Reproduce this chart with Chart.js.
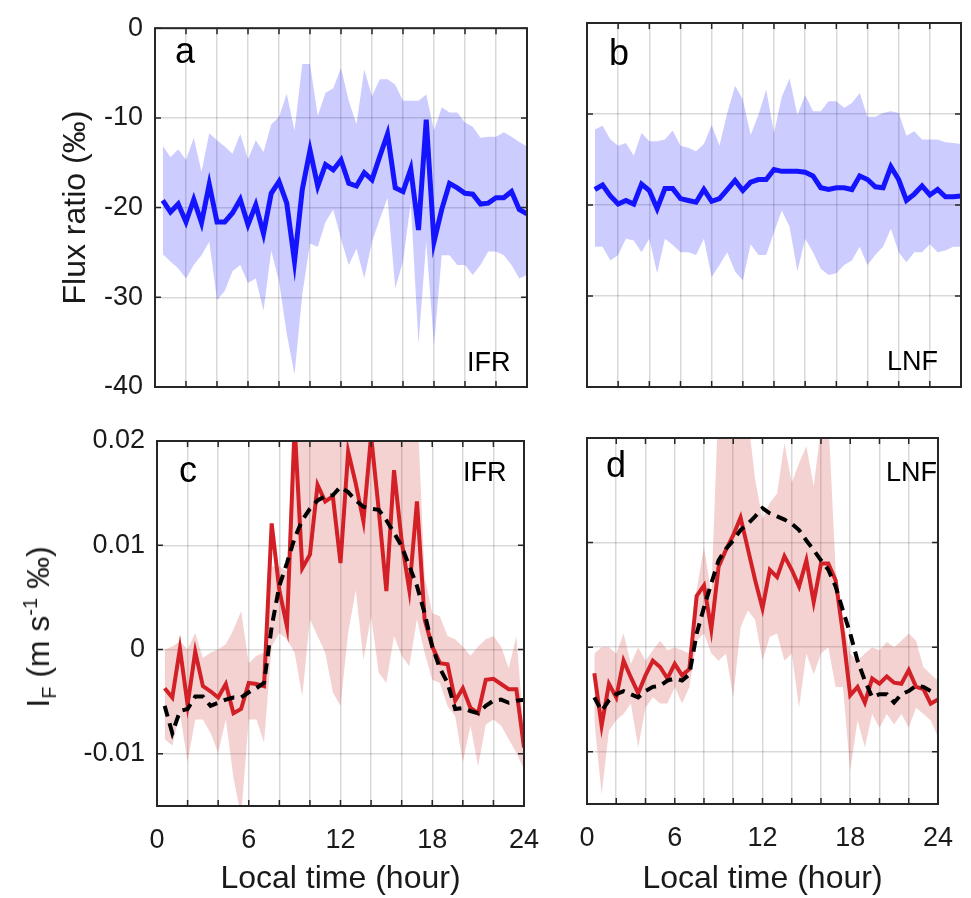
<!DOCTYPE html>
<html>
<head>
<meta charset="utf-8">
<script src="https://cdn.jsdelivr.net/npm/chart.js@4.4.0/dist/chart.umd.min.js"></script>
<style>
    body { margin: 0; background: #fff; width: 971px; height: 898px; position: relative; overflow: hidden;
           font-family: 'Liberation Sans', Arial, sans-serif; }
    canvas { position: absolute; left: 0; top: 0; }
    #ifLabel { position: absolute; left: 38px; top: 627px; transform: translate(-50%, -50%) rotate(-90deg);
               white-space: nowrap; font-size: 32px; line-height: 1; color: #1a1a1a; }
    #ifLabel sub, #ifLabel sup { font-size: 0.62em; line-height: 0; }
</style>
</head>
<body>
<canvas id="panel-a" width="971" height="898"></canvas>
<canvas id="panel-b" width="971" height="898"></canvas>
<canvas id="panel-c" width="971" height="898"></canvas>
<canvas id="panel-d" width="971" height="898"></canvas>
<div id="ifLabel">I<sub>F</sub> (m s<sup>-1</sup> ‰)</div>
<script>
// local time of each sample (hour)
const hours = [0.5, 1, 1.5, 2, 2.5, 3, 3.5, 4, 4.5, 5, 5.5, 6, 6.5, 7, 7.5, 8, 8.5, 9, 9.5, 10, 10.5, 11, 11.5, 12,
    12.5, 13, 13.5, 14, 14.5, 15, 15.5, 16, 16.5, 17, 17.5, 18, 18.5, 19, 19.5, 20, 20.5, 21, 21.5, 22, 22.5, 23, 23.5, 24];

const xGrid = [0, 2, 4, 6, 8, 10, 12, 14, 16, 18, 20, 22, 24];
const xLabels = [0, 6, 12, 18, 24];
const yTicksFlux = [-40, -30, -20, -10, 0];
const yTicksIF = [-0.01, 0, 0.01, 0.02];

// panel a - IFR flux ratio (‰)
const ifrRatio = [-19.2, -20.5, -19.6, -21.6, -19.1, -21.7, -17.4, -21.6, -21.6, -20.6, -19.1, -21.9, -19.7, -22.9, -18.4, -17.1,
    -19.5, -26.0, -18.0, -13.6, -17.6, -15.2, -15.8, -14.7, -17.3, -17.6, -16.1, -16.9, -14.3, -11.8, -17.8, -18.2,
    -15.7, -22.5, -10.2, -23.8, -20.2, -17.3, -17.8, -18.4, -18.5, -19.6, -19.5, -18.9, -18.9, -18.2, -20.2, -20.7];
const ifrRatioHigh = [-13.1, -14.4, -13.5, -14.7, -12.2, -16.0, -11.7, -12.5, -13.2, -14.0, -11.8, -14.6, -12.5, -13.8, -10.7, -9.9,
    -7.3, -11.4, -4.0, -4.0, -9.8, -7.2, -6.7, -4.4, -8.1, -10.7, -4.6, -7.6, -5.7, -5.7, -6.3, -8.1,
    -8.1, -8.1, -7.4, -11.4, -8.8, -9.4, -9.4, -10.5, -11.0, -12.2, -12.1, -12.1, -11.6, -12.1, -12.7, -13.2];
const ifrRatioLow = [-25.2, -26.0, -26.8, -27.9, -26.4, -25.3, -23.8, -30.3, -29.3, -27.1, -26.4, -28.4, -27.9, -31.5, -24.8, -28.2,
    -34.1, -38.6, -29.7, -24.0, -24.4, -21.6, -20.2, -23.5, -26.4, -24.6, -27.9, -23.8, -21.3, -18.9, -29.0, -26.0,
    -19.5, -35.2, -23.8, -35.4, -25.3, -25.3, -26.4, -26.4, -27.5, -26.4, -24.9, -24.9, -25.3, -26.4, -27.9, -27.5];

// panel b - LNF flux ratio (‰)
const lnfRatio = [-18.3, -17.8, -19.0, -19.9, -19.5, -19.9, -17.7, -18.4, -20.4, -18.2, -18.2, -19.3, -19.5, -19.7, -18.3, -19.6,
    -19.3, -18.3, -17.3, -18.4, -17.5, -17.2, -17.2, -16.1, -16.3, -16.3, -16.3, -16.4, -16.8, -18.1, -18.3, -18.1,
    -18.1, -18.3, -16.8, -17.2, -18.0, -18.1, -15.8, -17.2, -19.5, -18.8, -17.9, -18.9, -18.3, -19.1, -19.1, -19.0];
const lnfRatioHigh = [-11.7, -11.3, -12.8, -13.5, -13.2, -14.6, -12.1, -13.0, -13.0, -12.8, -11.8, -13.5, -13.7, -14.1, -13.3, -11.2,
    -13.5, -9.9, -6.9, -8.4, -12.3, -10.1, -7.3, -12.1, -8.1, -6.1, -10.1, -7.9, -9.7, -9.7, -8.6, -8.6,
    -9.3, -8.8, -7.7, -10.3, -10.3, -9.9, -9.7, -9.9, -12.4, -11.9, -12.8, -12.8, -12.8, -13.1, -13.2, -13.3];
const lnfRatioLow = [-24.6, -24.6, -26.1, -25.5, -23.7, -23.9, -25.2, -23.7, -27.5, -23.7, -24.4, -25.2, -25.2, -25.5, -23.7, -27.9,
    -26.6, -25.2, -27.3, -28.3, -24.3, -25.5, -25.5, -23.0, -20.6, -22.4, -27.3, -23.7, -25.2, -27.0, -27.7, -27.5,
    -26.6, -26.1, -24.6, -26.6, -25.5, -24.6, -22.6, -25.2, -26.3, -25.2, -25.2, -24.3, -25.2, -25.0, -24.6, -24.6];

// panel c - IFR isoflux (m s-1 ‰)
const ifrFlux = [-0.0037, -0.0046, 0.0001, -0.0053, -0.0002, -0.0035, -0.0040, -0.0046, -0.0033, -0.0061, -0.0057, -0.0032,
    -0.0033, -0.0035, 0.0121, 0.0057, 0.0022, 0.0215, 0.0078, 0.0091, 0.0158, 0.0142, 0.0147, 0.0083,
    0.0190, 0.0159, 0.0123, 0.0205, 0.0134, 0.0056, 0.0172, 0.0104, 0.0057, 0.0142, 0.0029, 0.0003,
    -0.0013, -0.0014, -0.0049, -0.0037, -0.0056, -0.0061, -0.0029, -0.0028, -0.0033, -0.0038, -0.0038, -0.0094];
const ifrFluxRef = [-0.0054, -0.0080, -0.0059, -0.0057, -0.0045, -0.0045, -0.0054, -0.0051, -0.0048, -0.0046, -0.0046, -0.0041,
    -0.0037, -0.0032, 0.0022, 0.0061, 0.0083, 0.0107, 0.0124, 0.0135, 0.0143, 0.0147, 0.0148, 0.0156,
    0.0151, 0.0143, 0.0137, 0.0135, 0.0134, 0.0124, 0.0112, 0.0099, 0.0080, 0.0061, 0.0035, 0.0003,
    -0.0018, -0.0032, -0.0057, -0.0056, -0.0059, -0.0061, -0.0054, -0.0049, -0.0048, -0.0051, -0.0049, -0.0048];
const ifrFluxHigh = [0.0000, 0.0003, 0.0008, 0.0000, 0.0016, -0.0008, -0.0003, 0.0000, 0.0005, 0.0019, 0.0037, -0.0013,
    -0.0006, -0.0003, 0.0080, 0.0080, 0.0075, 0.024, 0.026, 0.027, 0.025, 0.028, 0.026, 0.024,
    0.027, 0.025, 0.026, 0.028, 0.027, 0.024, 0.026, 0.025, 0.023, 0.024, 0.0070, 0.0035,
    0.0032, 0.0013, 0.0010, 0.0003, -0.0006, 0.0003, 0.0010, 0.0013, 0.0003, -0.0018, 0.0013, -0.0080];
const ifrFluxLow = [-0.0086, -0.0092, -0.0061, -0.0108, -0.0067, -0.0067, -0.0080, -0.0099, -0.0067, -0.0123, -0.0160, -0.0067,
    -0.0067, -0.0089, 0.0003, 0.0016, 0.0010, -0.0003, -0.0045, 0.0029, 0.0013, -0.0003, -0.0041, -0.0054,
    0.0016, 0.0057, -0.0010, 0.0032, -0.0022, -0.0032, 0.0013, -0.0006, -0.0016, 0.0029, -0.0003, -0.0029,
    -0.0032, -0.0054, -0.0064, -0.0108, -0.0073, -0.0112, -0.0072, -0.0067, -0.0073, -0.0086, -0.0099, -0.0115];

// panel d - LNF isoflux (m s-1 ‰)
const lnfFlux = [-0.0025, -0.0075, -0.0035, -0.0048, -0.0013, -0.0029, -0.0044, -0.0027, -0.0013, -0.0019, -0.0030, -0.0016,
    -0.0027, -0.0021, 0.0049, 0.0059, 0.0017, 0.0077, 0.0093, 0.0107, 0.0124, 0.0094, 0.0064, 0.0037,
    0.0074, 0.0067, 0.0087, 0.0074, 0.0058, 0.0083, 0.0043, 0.0080, 0.0080, 0.0064, 0.0013, -0.0046,
    -0.0038, -0.0053, -0.0030, -0.0035, -0.0028, -0.0034, -0.0035, -0.0022, -0.0038, -0.0040, -0.0054, -0.0050];
const lnfFluxRef = [-0.0048, -0.0061, -0.0051, -0.0045, -0.0042, -0.0045, -0.0048, -0.0042, -0.0038, -0.0037, -0.0032, -0.0030,
    -0.0032, -0.0026, 0.0013, 0.0038, 0.0061, 0.0083, 0.0094, 0.0102, 0.0112, 0.0118, 0.0125, 0.0133,
    0.0128, 0.0125, 0.0122, 0.0118, 0.0112, 0.0102, 0.0093, 0.0083, 0.0074, 0.0058, 0.0035, 0.0013,
    -0.0013, -0.0032, -0.0048, -0.0045, -0.0045, -0.0053, -0.0045, -0.0042, -0.0037, -0.0038, -0.0042, -0.0043];
const lnfFluxHigh = [-0.0006, 0.0000, 0.0000, -0.0006, 0.0013, -0.0016, 0.0000, -0.0013, -0.0003, 0.0006, -0.0003, 0.0000,
    -0.0003, -0.0006, 0.0055, 0.0096, 0.0051, 0.024, 0.026, 0.025, 0.024, 0.022, 0.0160, 0.0122,
    0.0138, 0.0147, 0.0195, 0.0157, 0.0176, 0.0192, 0.0154, 0.021, 0.022, 0.0075, 0.0026, -0.0006,
    -0.0013, -0.0006, 0.0000, -0.0003, 0.0005, 0.0000, 0.0006, 0.0013, 0.0006, -0.0019, -0.0026, -0.0032];
const lnfFluxLow = [-0.0070, -0.0141, -0.0080, -0.0070, -0.0064, -0.0054, -0.0096, -0.0058, -0.0048, -0.0054, -0.0054, -0.0038,
    -0.0054, -0.0038, 0.0006, 0.0013, -0.0006, -0.0013, -0.0006, -0.0048, 0.0019, 0.0035, 0.0026, -0.0013,
    0.0010, 0.0013, -0.0013, -0.0006, -0.0058, -0.0006, -0.0026, -0.0006, 0.0000, -0.0038, -0.0038, -0.0118,
    -0.0070, -0.0096, -0.0064, -0.0077, -0.0064, -0.0074, -0.0064, -0.0077, -0.0058, -0.0064, -0.0070, -0.0086];

const FONT = "'Liberation Sans', Arial, Helvetica, sans-serif";
const TEXT = '#1a1a1a';

function toXY(values) {
    return hours.map((h, i) => ({ x: h, y: values[i] }));
}

function meanLine(values, color, width) {
    return { data: toXY(values), borderColor: color, borderWidth: width, pointRadius: 0,
             tension: 0, fill: false, clip: 0, order: 1 };
}

function dashedLine(values) {
    return { data: toXY(values), borderColor: '#000', borderWidth: 4, borderDash: [11, 7],
             pointRadius: 0, tension: 0, fill: false, clip: 0, order: 0 };
}

function band(high, low, color) {
    return [
        { data: toXY(high), borderWidth: 0, borderColor: 'rgba(0,0,0,0)', pointRadius: 0, fill: false, order: 5 },
        { data: toXY(low), borderWidth: 0, borderColor: 'rgba(0,0,0,0)', pointRadius: 0, fill: '-1',
          backgroundColor: color, order: 5 }
    ];
}

// box around the axes, inward tick marks and the panel tags
const framePlugin = {
    id: 'frame',
    afterDatasetsDraw(chart, args, opts) {
        const { ctx, chartArea: a } = chart;
        const x = chart.scales.x, y = chart.scales.y;
        ctx.save();
        ctx.strokeStyle = '#262626';
        ctx.lineWidth = 1.5;
        ctx.beginPath();
        x.ticks.forEach(t => {
            const px = x.getPixelForValue(t.value);
            ctx.moveTo(px, a.bottom); ctx.lineTo(px, a.bottom - 6);
            ctx.moveTo(px, a.top); ctx.lineTo(px, a.top + 6);
        });
        y.ticks.forEach(t => {
            const py = y.getPixelForValue(t.value);
            ctx.moveTo(a.left, py); ctx.lineTo(a.left + 6, py);
            ctx.moveTo(a.right, py); ctx.lineTo(a.right - 6, py);
        });
        ctx.stroke();
        ctx.lineWidth = 2;
        ctx.strokeRect(a.left, a.top, a.right - a.left, a.bottom - a.top);

        ctx.fillStyle = '#000';
        ctx.textBaseline = 'alphabetic';
        ctx.textAlign = 'left';
        (opts.tags || []).forEach(t => {
            ctx.font = t.size + 'px ' + FONT;
            ctx.fillText(t.text, t.x, t.y);
        });
        ctx.restore();
    }
};

function makePanel(canvasId, cfg) {
    const gridStyle = { color: 'rgba(0,0,0,0.15)', lineWidth: 1.5, drawTicks: false };
    return new Chart(document.getElementById(canvasId), {
        type: 'line',
        data: { datasets: cfg.datasets },
        options: {
            responsive: false,
            animation: false,
            devicePixelRatio: 1,
            events: [],
            layout: { padding: { left: 0, top: cfg.box.top, right: 971 - cfg.box.right, bottom: 0 } },
            plugins: {
                legend: { display: false },
                tooltip: { enabled: false },
                frame: { tags: cfg.tags }
            },
            scales: {
                x: {
                    type: 'linear',
                    min: 0,
                    max: 24,
                    grid: gridStyle,
                    border: { display: false },
                    afterBuildTicks: s => { s.ticks = xGrid.map(v => ({ value: v })); },
                    afterFit: s => { s.height = 898 - cfg.box.bottom; },
                    ticks: {
                        display: cfg.showX,
                        autoSkip: false,
                        maxRotation: 0,
                        padding: 18,
                        color: TEXT,
                        font: { family: FONT, size: 27 },
                        callback: v => xLabels.includes(v) ? String(v) : ''
                    },
                    title: {
                        display: cfg.showX,
                        text: 'Local time (hour)',
                        color: TEXT,
                        font: { family: FONT, size: 32 },
                        padding: { top: 0, bottom: 0 }
                    }
                },
                y: {
                    type: 'linear',
                    min: cfg.yMin,
                    max: cfg.yMax,
                    grid: gridStyle,
                    border: { display: false },
                    afterBuildTicks: s => { s.ticks = cfg.yTicks.map(v => ({ value: v })); },
                    afterFit: s => { s.width = cfg.box.left; },
                    ticks: {
                        display: cfg.showY,
                        padding: 12,
                        color: TEXT,
                        font: { family: FONT, size: 27 },
                        callback: cfg.yFormat
                    },
                    title: {
                        display: !!cfg.yTitle,
                        text: cfg.yTitle || '',
                        color: TEXT,
                        font: { family: FONT, size: 32 },
                        padding: { top: 57, bottom: 0 }
                    }
                }
            }
        },
        plugins: [framePlugin]
    });
}

const blueBand = 'rgba(0, 0, 255, 0.2)';
const pinkBand = 'rgba(200, 30, 30, 0.2)';
const blue = '#1414ff';
const red = '#d22026';

makePanel('panel-a', {
    box: { left: 155, right: 527, top: 23, bottom: 387 },
    yMin: -40, yMax: 0, yTicks: yTicksFlux, showY: true, showX: false,
    yFormat: v => String(v),
    yTitle: 'Flux ratio (‰)',
    tags: [{ text: 'a', x: 175, y: 63, size: 36 }, { text: 'IFR', x: 467, y: 371, size: 27 }],
    datasets: [...band(ifrRatioHigh, ifrRatioLow, blueBand), meanLine(ifrRatio, blue, 5)]
});

makePanel('panel-b', {
    box: { left: 587, right: 961, top: 23, bottom: 387 },
    yMin: -40, yMax: 0, yTicks: yTicksFlux, showY: false, showX: false,
    yFormat: v => String(v),
    tags: [{ text: 'b', x: 609, y: 65, size: 36 }, { text: 'LNF', x: 887, y: 370, size: 27 }],
    datasets: [...band(lnfRatioHigh, lnfRatioLow, blueBand), meanLine(lnfRatio, blue, 5)]
});

makePanel('panel-c', {
    box: { left: 157, right: 524, top: 441, bottom: 806 },
    yMin: -0.015, yMax: 0.02, yTicks: yTicksIF, showY: true, showX: true,
    yFormat: v => v === 0 ? '0' : v.toFixed(2),
    tags: [{ text: 'c', x: 179, y: 482, size: 36 }, { text: 'IFR', x: 463, y: 481, size: 27 }],
    datasets: [...band(ifrFluxHigh, ifrFluxLow, pinkBand), meanLine(ifrFlux, red, 4), dashedLine(ifrFluxRef)]
});

makePanel('panel-d', {
    box: { left: 587, right: 957, top: 438, bottom: 804 },
    yMin: -0.015, yMax: 0.02, yTicks: yTicksIF, showY: false, showX: true,
    yFormat: v => v === 0 ? '0' : v.toFixed(2),
    tags: [{ text: 'd', x: 606, y: 477, size: 36 }, { text: 'LNF', x: 886, y: 481, size: 27 }],
    datasets: [...band(lnfFluxHigh, lnfFluxLow, pinkBand), meanLine(lnfFlux, red, 4), dashedLine(lnfFluxRef)]
});
</script>
</body>
</html>
